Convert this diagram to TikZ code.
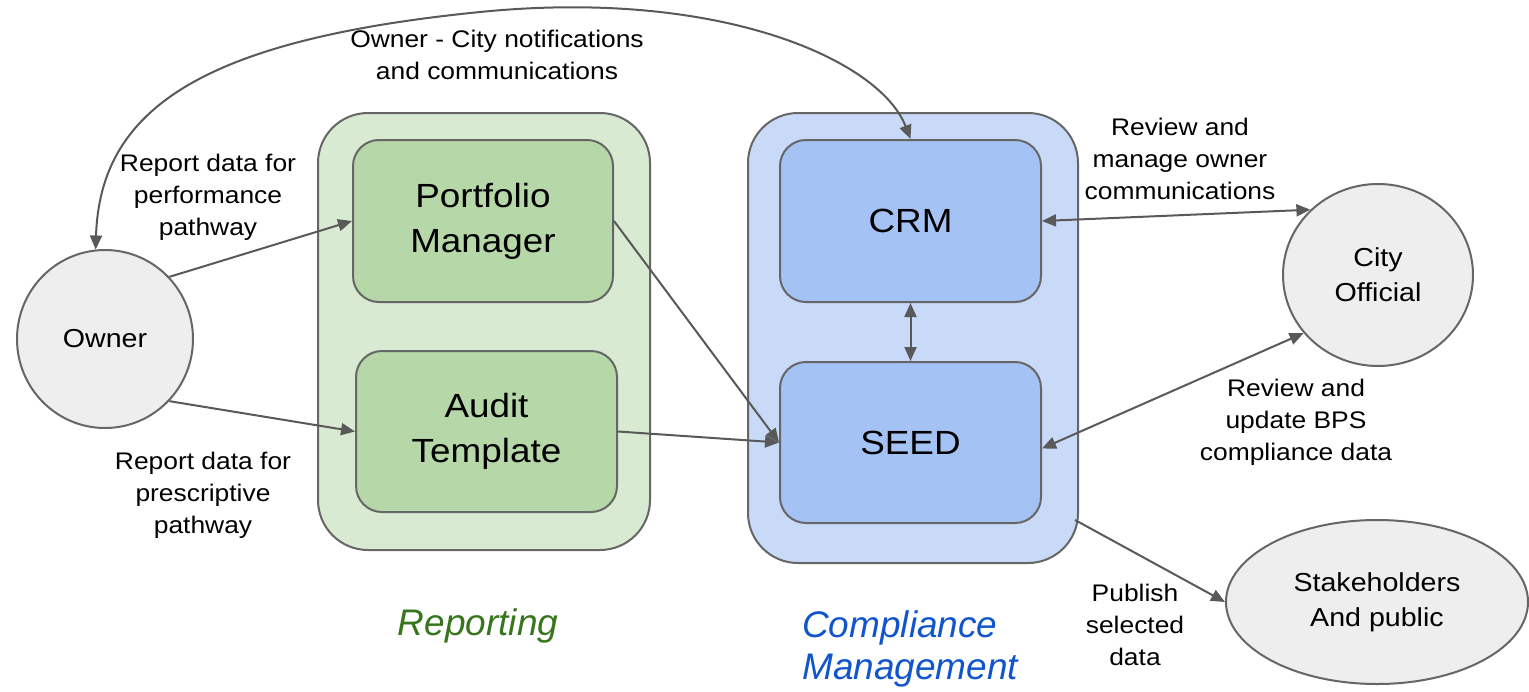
\documentclass[tikz,border=0pt]{standalone}
\usepackage{fontspec}
\setmainfont{Liberation Sans}
\newfontfamily\widefont[FakeStretch=1.1]{Liberation Sans}
\usetikzlibrary{arrows.meta,shapes.geometric}
\definecolor{edgegray}{HTML}{595959}
\definecolor{boxline}{HTML}{666666}
\definecolor{greenout}{HTML}{D9EAD3}
\definecolor{greenin}{HTML}{B6D7A8}
\definecolor{blueout}{HTML}{C9DAF8}
\definecolor{bluein}{HTML}{A4C2F4}
\definecolor{actorfill}{HTML}{EEEEEE}
\definecolor{repgreen}{HTML}{38761D}
\definecolor{compblue}{HTML}{1155CC}
\begin{document}
\begin{tikzpicture}[x=1pt,y=-1pt,
  outerbox/.style={draw=boxline, line width=2pt, rectangle, rounded corners=50pt, inner sep=0pt},
  innerbox/.style={draw=boxline, line width=2pt, rectangle, rounded corners=26pt, inner sep=0pt,
     align=center, font=\widefont\fontsize{33.5}{45}\selectfont},
  actor/.style={draw=boxline, line width=2pt, ellipse, fill=actorfill, inner sep=0pt, align=center,
     font=\widefont\fontsize{26}{35}\selectfont},
  lbl/.style={align=center, font=\widefont\fontsize{24}{32}\selectfont, inner sep=0pt},
  grouplbl/.style={align=left, font=\fontsize{37}{42}\selectfont\itshape, inner sep=0pt},
  conn/.style={draw=edgegray, line width=2pt, -{Triangle[length=14pt,width=12pt]}},
  biconn/.style={draw=edgegray, line width=2pt, {Triangle[length=14pt,width=12pt]}-{Triangle[length=14pt,width=12pt]}}
]
\useasboundingbox (0,0) rectangle (1529,691);

% group containers
\node[outerbox, fill=greenout, minimum width=332pt, minimum height=437pt] (rep) at (484,331.5) {};
\node[outerbox, fill=blueout, minimum width=330pt, minimum height=450pt] (comp) at (913,338) {};

% inner boxes
\node[innerbox, fill=greenin, minimum width=260pt, minimum height=162pt] (pm) at (483,221) {Portfolio\\Manager};
\node[innerbox, fill=greenin, minimum width=261pt, minimum height=161pt] (at) at (486.5,431.5) {Audit\\Template};
\node[innerbox, fill=bluein, minimum width=261pt, minimum height=162pt] (crm) at (910.5,221) {CRM};
\node[innerbox, fill=bluein, minimum width=261pt, minimum height=161pt] (seed) at (910.5,442.5) {SEED};

% actors
\node[actor, minimum width=176pt, minimum height=178pt] (owner) at (105,339) {Owner};
\node[actor, minimum width=190pt, minimum height=182pt] (city) at (1378,275) {City\\Official};
\node[actor, minimum width=302pt, minimum height=164pt] (stake) at (1377,602) {Stakeholders\\And public};

% group labels
\node[grouplbl, text=repgreen] (replbl) at (478,626) {Reporting};
\node[grouplbl, text=compblue, anchor=west] (complbl) at (802,649) {Compliance\\Management};

% connector labels
\node[lbl] (l1) at (497,55) {Owner - City notifications\\and communications};
\node[lbl] (l2) at (208,197) {Report data for\\performance\\pathway};
\node[lbl] (l3) at (203,495) {Report data for\\prescriptive\\pathway};
\node[lbl] (l4) at (1180,159) {Review and\\manage owner\\communications};
\node[lbl] (l5) at (1296,422) {Review and\\update BPS\\compliance data};
\node[lbl] (l6) at (1135,625) {Publish\\selected\\data};

% connectors
\draw[biconn] (owner.96) .. controls (100,110) and (200,40) .. (480,12)
      .. controls (720,-12) and (880,60) .. (crm.north);
\draw[conn] (owner.44) -- (pm.west);
\draw[conn] (owner.-44) -- (at.west);
\draw[conn] (pm.east) -- (seed.west);
\draw[conn] (at.east) -- (seed.west);
\draw[biconn] (crm.south) -- (seed.north);
\draw[biconn] (crm.east) -- (city.136);
\draw[biconn] ([yshift=-6pt]seed.east) -- (city.218);
\coordinate (pubstart) at (1075,520);
\draw[conn] (pubstart) -- (stake.west);
\end{tikzpicture}
\end{document}
